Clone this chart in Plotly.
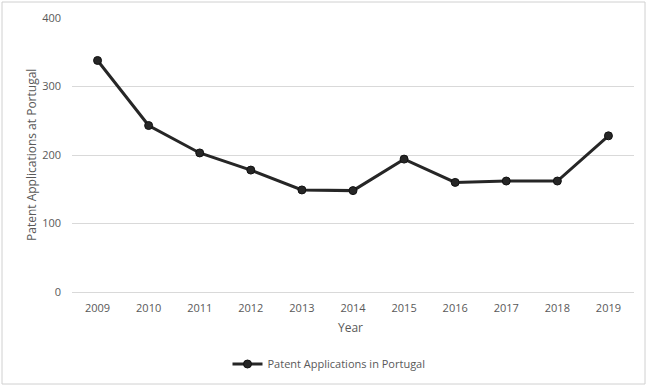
import plotly.graph_objects as go

years = ["2009", "2010", "2011", "2012", "2013", "2014", "2015", "2016", "2017", "2018", "2019"]
applications = [338, 243, 203, 178, 149, 148, 194, 160, 162, 162, 228]
y_ticks = [0, 100, 200, 300, 400]

font_family = "Open Sans, Liberation Sans, sans-serif"
gray = "#595959"

L, R, T, B = 72, 16, 18, 97
W, H = 650, 389
pw, ph = W - L - R, H - T - B

def px_x(x):
    return (x - L) / pw

def px_y(y):
    return (H - B - y) / ph

fig = go.Figure()
fig.add_trace(go.Scatter(
    x=years, y=applications, mode="lines+markers",
    name="Patent Applications in Portugal",
    line=dict(color="#262626", width=3),
    marker=dict(color="#262626", size=8, line=dict(color="#111111", width=1)),
))

fig.update_layout(
    width=W, height=H,
    margin=dict(l=L, r=R, t=T, b=B, autoexpand=False),
    paper_bgcolor="white", plot_bgcolor="white",
    font=dict(family=font_family, size=11, color=gray),
    showlegend=True,
    legend=dict(orientation="h", x=px_x(329), xanchor="center", y=px_y(364), yanchor="middle",
                font=dict(size=11, color=gray), itemwidth=30),
    xaxis=dict(showgrid=False, showline=False, ticks="", type="category", automargin=False,
               range=[-0.5, len(years) - 0.5], ticklabelstandoff=8,
               tickfont=dict(size=11, color=gray)),
    yaxis=dict(range=[0, 400], tickvals=y_ticks, showgrid=True, gridcolor="#d9d9d9", gridwidth=1,
               zeroline=True, zerolinecolor="#d9d9d9", zerolinewidth=1, automargin=False,
               showline=False, ticks="", ticklabelstandoff=10, tickfont=dict(size=11, color=gray)),
    annotations=[
        dict(text="Year", xref="paper", yref="paper", x=px_x(350), y=px_y(327),
             xanchor="center", yanchor="middle", showarrow=False, font=dict(size=12, color=gray)),
        dict(text="Patent Applications at Portugal", xref="paper", yref="paper", x=px_x(31), y=px_y(155),
             xanchor="center", yanchor="middle", textangle=-90, showarrow=False,
             font=dict(size=12, color=gray)),
    ],
    shapes=[dict(type="rect", xref="paper", yref="paper", x0=px_x(2), x1=px_x(645), y0=px_y(384), y1=px_y(2),
                 line=dict(color="#d0d0d0", width=1), layer="below")],
)

fig.write_html("out.html", config={"displayModeBar": False},
               post_script="document.body.style.margin='0';document.body.style.overflow='hidden';")
